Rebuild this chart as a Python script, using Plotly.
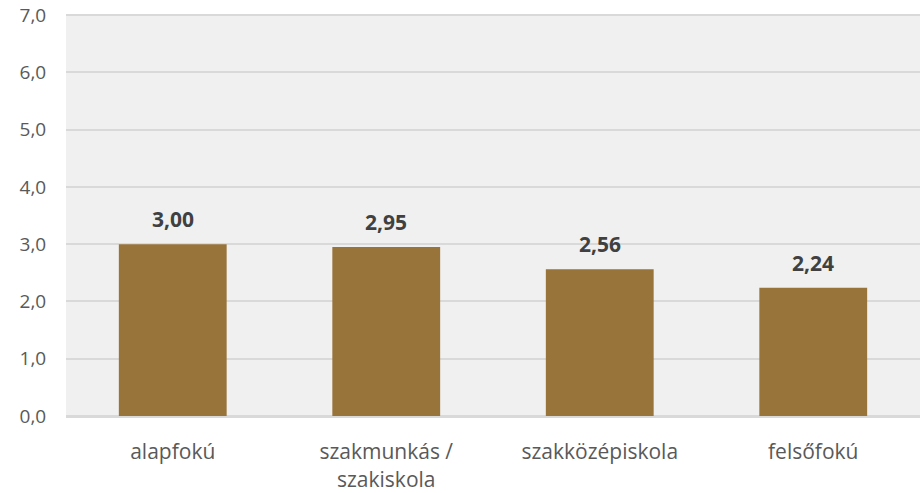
import plotly.graph_objects as go

kategoriak = ['alapfokú', 'szakmunkás /<br>szakiskola', 'szakközépiskola', 'felsőfokú']
ertekek = [3.00, 2.95, 2.56, 2.24]
y_tickek = [0, 1, 2, 3, 4, 5, 6, 7]

BARNA = '#98733A'
FONT = 'Open Sans'
RACS = '#D9D9D9'

fig = go.Figure()
fig.add_trace(go.Bar(
    x=kategoriak, y=ertekek,
    marker=dict(color=BARNA, line=dict(width=0)),
    width=0.505,
    hoverinfo='skip',
))

# értékcímkék az oszlopok felett
for k, v in zip(kategoriak, ertekek):
    fig.add_annotation(
        x=k, y=v, text=f'<b>{v:.2f}</b>'.replace('.', ','),
        showarrow=False, yanchor='bottom', yshift=9,
        font=dict(family=FONT, size=21, color='#404040'),
    )

# felső rácsvonal (a plotly a tartomány szélén nem rajzolja ki)
fig.add_shape(type='line', xref='paper', yref='paper', x0=0, x1=1, y0=1, y1=1,
              line=dict(color=RACS, width=2))

fig.update_layout(
    width=920, height=493,
    margin=dict(l=66, r=0, t=15, b=75),
    paper_bgcolor='white', plot_bgcolor='#F0F0F0',
    showlegend=False,
    separators=', ',
    font=dict(family=FONT, size=19, color='#595959'),
)
fig.update_yaxes(
    range=[0, 7], tickvals=y_tickek, tickformat='.1f',
    gridcolor=RACS, gridwidth=1.5,
    zeroline=True, zerolinecolor=RACS, zerolinewidth=2.5,
    ticks='outside', ticklen=15, tickcolor='rgba(0,0,0,0)',
    tickfont=dict(size=19, color='#595959'),
    ticklabeloverflow='allow',
)
fig.update_xaxes(
    showgrid=False, ticks='outside', ticklen=17, tickcolor='rgba(0,0,0,0)',
    tickfont=dict(size=21, color='#595959'),
)

# a böngésző alapértelmezett 8px-es body-margóját kikapcsoljuk
fig.write_html('out.html', config={'displayModeBar': False},
               post_script="document.body.style.margin='0';")
